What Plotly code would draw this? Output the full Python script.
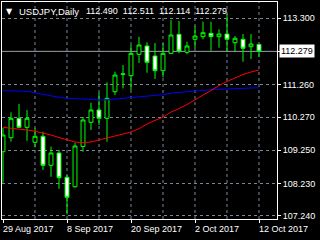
import plotly.graph_objects as go

dates = ["29 Aug", "30 Aug", "31 Aug", "1 Sep", "4 Sep", "5 Sep", "6 Sep", "7 Sep", "8 Sep",
         "11 Sep", "12 Sep", "13 Sep", "14 Sep", "15 Sep", "18 Sep", "19 Sep", "20 Sep",
         "21 Sep", "22 Sep", "25 Sep", "26 Sep", "27 Sep", "28 Sep", "29 Sep", "2 Oct",
         "3 Oct", "4 Oct", "5 Oct", "6 Oct", "9 Oct", "10 Oct", "11 Oct", "12 Oct"]

opens = [109.208, 109.636, 110.230, 109.954, 109.495, 109.679, 108.791, 109.168, 108.424,
         108.136, 109.367, 110.107, 110.484, 110.230, 111.044, 111.575, 111.534,
         112.189, 112.443, 112.137, 111.687, 112.219, 112.801, 112.250, 112.648,
         112.728, 112.832, 112.728, 112.810, 112.544, 112.648, 112.422, 112.490]
highs = [109.933, 110.414, 110.668, 110.484, 109.924, 109.820, 109.360, 109.260, 108.494,
         109.483, 110.270, 110.707, 111.014, 111.332, 111.656, 111.861, 112.474,
         112.728, 112.556, 112.535, 112.526, 113.239, 113.208, 112.575, 113.055,
         113.187, 113.187, 112.954, 113.422, 112.749, 112.810, 112.810, 112.511]
lows = [108.259, 109.514, 109.933, 109.544, 109.342, 108.647, 108.442, 108.075, 107.290,
        108.106, 109.208, 109.872, 110.025, 109.514, 110.943, 111.148, 111.096,
        111.923, 111.626, 111.433, 111.485, 112.198, 112.219, 112.189, 112.373,
        112.648, 112.299, 112.391, 112.268, 112.268, 111.962, 112.045, 112.114]
closes = [109.719, 110.230, 109.954, 110.230, 109.679, 108.791, 109.168, 108.412, 107.812,
          109.382, 110.178, 110.484, 110.230, 110.842, 111.555, 111.590, 112.219,
          112.474, 111.944, 111.687, 112.219, 112.780, 112.290, 112.443, 112.749,
          112.850, 112.728, 112.810, 112.648, 112.679, 112.373, 112.504, 112.279]

ma_slow = [111.075, 111.075, 111.066, 111.056, 111.013, 110.964, 110.912, 110.873, 110.842,
           110.821, 110.821, 110.811, 110.790, 110.799, 110.821, 110.842, 110.873,
           110.891, 110.912, 110.934, 110.952, 111.004, 111.026, 111.056, 111.066,
           111.087, 111.105, 111.118, 111.127, 111.136, 111.157, 111.167, 111.167]
ma_fast = [109.954, 109.933, 109.902, 109.872, 109.832, 109.780, 109.719, 109.642, 109.566,
           109.504, 109.483, 109.504, 109.566, 109.627, 109.688, 109.740, 109.811,
           109.912, 110.055, 110.169, 110.260, 110.423, 110.524, 110.652, 110.805,
           110.943, 111.081, 111.234, 111.357, 111.463, 111.571, 111.647, 111.708]

y_ticks = [113.300, 112.280, 111.260, 110.270, 109.250, 108.230, 107.240]
y_tick_text = ["113.300", "", "111.260", "110.270", "109.250", "108.230", "107.240"]
x_label_idx = [0, 8, 16, 24, 32]
x_label_text = ["29 Aug 2017", "8 Sep 2017", "20 Sep 2017", "2 Oct 2017", "12 Oct 2017"]
x_grid_idx = [4, 8, 12, 16, 20, 24, 28, 32]

symbol = "USDJPY,Daily"
FONT = "Liberation Sans, Arial, sans-serif"
GRID = "#778899"

idx = list(range(len(dates)))

fig = go.Figure()
fig.add_trace(go.Scatter(x=idx, y=ma_slow, mode="lines", line=dict(color="#0000ff", width=1),
                         hoverinfo="skip"))
fig.add_trace(go.Scatter(x=idx, y=ma_fast, mode="lines", line=dict(color="#ff0000", width=1),
                         hoverinfo="skip"))
fig.add_trace(go.Candlestick(
    x=idx, open=opens, high=highs, low=lows, close=closes,
    increasing=dict(line=dict(color="#00ff00", width=1), fillcolor="#000000"),
    decreasing=dict(line=dict(color="#00ff00", width=1), fillcolor="#ffffff"),
    whiskerwidth=0,
))

last = closes[-1]
fig.add_hline(y=last, line=dict(color="#a0a0a0", width=1), layer="below")

fig.update_layout(
    width=320, height=240,
    margin=dict(l=2, r=43, t=2, b=21),
    paper_bgcolor="#000000", plot_bgcolor="#000000",
    showlegend=False,
    font=dict(family=FONT, size=9, color="#ffffff"),
    xaxis=dict(
        range=[-0.125, 34.25], rangeslider=dict(visible=False),
        showgrid=False, zeroline=False,
        tickvals=x_label_idx, showticklabels=False,
        ticks="outside", ticklen=3, tickcolor="#ffffff",
        showline=True, linecolor="#ffffff", linewidth=1, mirror=True,
        fixedrange=True,
    ),
    yaxis=dict(
        range=[107.148, 113.79], side="right",
        tickvals=y_ticks, ticktext=y_tick_text,
        showgrid=True, gridcolor=GRID, griddash="3px,3px", gridwidth=1,
        zeroline=False,
        ticks="outside", ticklen=3, tickcolor="#ffffff",
        showline=True, linecolor="#ffffff", linewidth=1, mirror=True,
        tickfont=dict(family=FONT, size=9, color="#ffffff"),
        fixedrange=True,
    ),
)

for g in x_grid_idx:
    fig.add_vline(x=g, line=dict(color=GRID, width=1, dash="3px,3px"), layer="below")

for i, t in zip(x_label_idx, x_label_text):
    fig.add_annotation(x=i, y=0, xref="x", yref="paper", text=t, showarrow=False,
                       xanchor="left", yanchor="middle", yshift=-9.5, xshift=-1.5,
                       borderpad=0, font=dict(family=FONT, size=9, color="#ffffff"))

# current price label
fig.add_annotation(x=1, y=last, xref="paper", yref="y", text=f"{last:.3f}", showarrow=False,
                   xanchor="left", yanchor="middle", xshift=2, bgcolor="#ffffff",
                   borderpad=1, font=dict(family=FONT, size=9, color="#000000"))

# header
fig.add_annotation(x=0, y=1, xref="paper", yref="paper", text="▼", showarrow=False,
                   xanchor="left", yanchor="middle", xshift=3, yshift=-9, borderpad=0,
                   font=dict(family="DejaVu Sans", size=8, color="#ffffff"))
fig.add_annotation(x=0, y=1, xref="paper", yref="paper", text=symbol, showarrow=False,
                   xanchor="left", yanchor="middle", xshift=16, yshift=-9, borderpad=0,
                   font=dict(family=FONT, size=9.5, color="#ffffff"))
ohlc_text = "  ".join(f"{v:.3f}" for v in (opens[-1], highs[-1], lows[-1], closes[-1]))
fig.add_annotation(x=0, y=1, xref="paper", yref="paper", text=ohlc_text, showarrow=False,
                   xanchor="left", yanchor="middle", xshift=83, yshift=-9, borderpad=0,
                   font=dict(family=FONT, size=9, color="#ffffff"))

fig.write_html("out.html", config={"displayModeBar": False})
